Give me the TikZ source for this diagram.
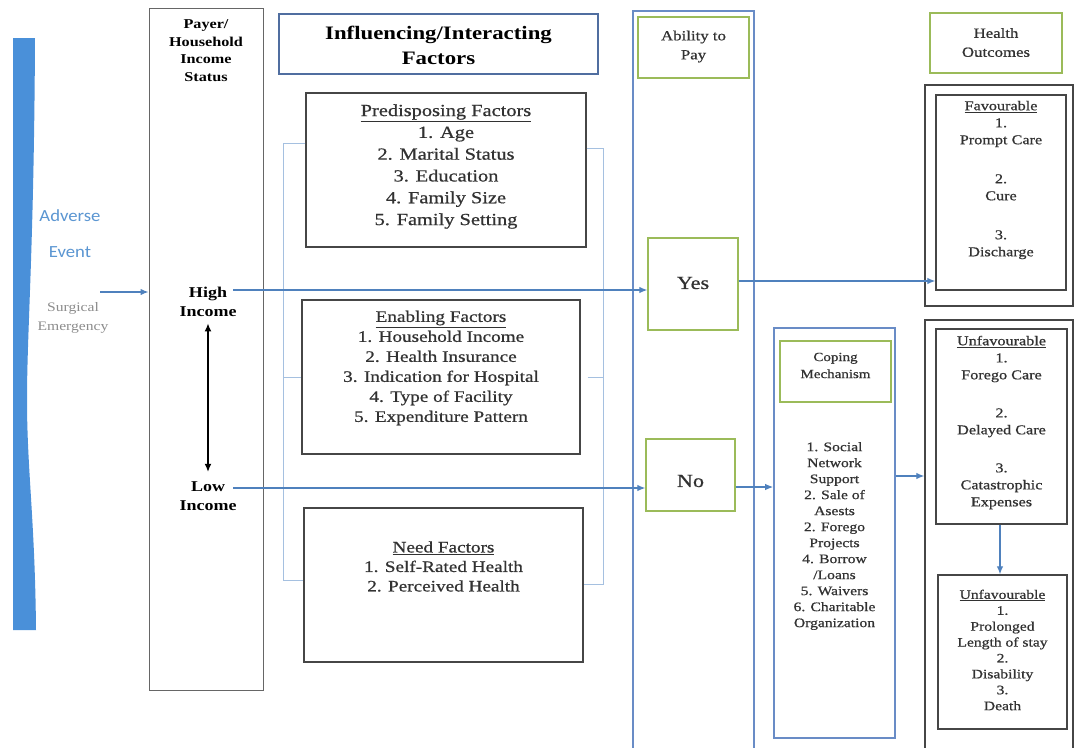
\documentclass[tikz,border=0pt]{standalone}
\usepackage{fontspec}
\setmainfont{Liberation Serif}[FakeStretch=1.2]
\newfontfamily\bxf{Liberation Serif}[FakeStretch=1.2, FakeBold=0.7]
\newfontfamily\calib{Carlito}[FakeStretch=1.1]
\usetikzlibrary{arrows.meta}
\definecolor{barblue}{RGB}{74,144,217}
\definecolor{lnblue}{RGB}{79,129,189}
\definecolor{bxblue}{RGB}{105,140,198}
\definecolor{ttlblue}{RGB}{80,110,160}
\definecolor{grn}{RGB}{155,187,89}
\definecolor{brk}{RGB}{165,192,224}
\definecolor{txt}{RGB}{50,50,50}
\definecolor{advb}{RGB}{91,150,210}
\definecolor{dgray}{RGB}{70,70,70}
\tikzset{
  gbox/.style={draw=dgray, line width=1.4pt, inner sep=0pt},
  pbox/.style={draw=black!60, line width=1pt, inner sep=0pt},
  grbox/.style={draw=grn, line width=1.3pt, inner sep=0pt},
  blbox/.style={draw=bxblue, line width=1.7pt, inner sep=0pt},
  conn/.style={draw=lnblue, line width=1.2pt, -{Latex[length=8pt,width=6.5pt]}},
  brkline/.style={draw=brk, line width=0.9pt},
  txtn/.style={align=center, text=txt, inner sep=0pt},
  btxt/.style={align=center, text=black, inner sep=0pt},
}
\begin{document}
\begin{tikzpicture}[x=1pt,y=-1pt]
\useasboundingbox (0,0) rectangle (1075,747);
\fill[white] (0,0) rectangle (1075,747);
% left bar
\fill[barblue] (13,38) -- (35,38) .. controls (34,250) and (27,330) .. (27,400)
  .. controls (27,470) and (35,520) .. (36,630) -- (13,630) -- cycle;
\node[txtn, text=advb, font=\calib\fontsize{17}{36}\selectfont] (adv) at (70,234) {Adverse\\Event};
\node[txtn, text=black!45, font=\fontsize{13}{19}\selectfont] (surg) at (73,318) {Surgical\\Emergency};
\coordinate (advS) at (100,292);

% payer column
\node[pbox, minimum width=114pt, minimum height=682pt] (payer) at (206,349) {};
\node[btxt, font=\bfseries\fontsize{13.5}{17.7}\selectfont] (payt) at (206,50.5) {Payer/\\Household\\Income\\Status};
\node[btxt, font=\bfseries\fontsize{15}{19}\selectfont] (hi) at (208,301.5) {High\\Income};
\node[btxt, font=\bfseries\fontsize{15}{19}\selectfont] (lo) at (208,496.5) {Low\\Income};
\draw[black, line width=1.3pt, {Latex[length=8pt,width=7pt]}-{Latex[length=8pt,width=7pt]}] ([yshift=-7pt]hi.south) -- ([yshift=10pt]lo.north);
\coordinate (hiS) at (233,290);
\coordinate (loS) at (233,488);

% influencing
\node[draw=ttlblue, line width=1.6pt, minimum width=319pt, minimum height=60pt, inner sep=0pt] (infl) at (438.5,44) {};
\node[btxt, font=\bfseries\fontsize{19}{25}\selectfont] (inflt) at (438.5,45.5) {Influencing/Interacting\\Factors};

% factor boxes
\node[gbox, minimum width=280pt, minimum height=154pt] (pre) at (446,170) {};
\node[txtn, font=\bxf\fontsize{17}{21.8}\selectfont] (pret) at (446,166.5) {\underline{Predisposing Factors}\\1. Age\\2. Marital Status\\3. Education\\4. Family Size\\5. Family Setting};
\node[gbox, minimum width=278pt, minimum height=154pt] (ena) at (441,377) {};
\node[txtn, font=\bxf\fontsize{16}{20}\selectfont] (enat) at (441,368) {\underline{Enabling Factors}\\1. Household Income\\2. Health Insurance\\3. Indication for Hospital\\4. Type of Facility\\5. Expenditure Pattern};
\node[gbox, minimum width=279pt, minimum height=154pt] (need) at (443.5,585) {};
\node[txtn, font=\bxf\fontsize{16}{19.5}\selectfont] (needt) at (443.5,566.5) {\underline{Need Factors}\\1. Self-Rated Health\\2. Perceived Health};

% brackets
\coordinate (bl1) at (283,143);
\coordinate (bl2) at (283,377);
\coordinate (bl3) at (283,580);
\coordinate (br1) at (603,148);
\coordinate (br2) at (603,377);
\coordinate (br3) at (603,584);
\draw[brkline] (pre.west |- bl1) -- (bl1) -- (bl3) -- (need.west |- bl3);
\draw[brkline] (bl2) -- (ena.west |- bl2);
\draw[brkline] (pre.east |- br1) -- (br1) -- (br3) -- (need.east |- br3);
\draw[brkline] ([xshift=7pt]ena.east |- br2) -- (br2);

% ability to pay
\node[blbox, minimum width=121pt, minimum height=749pt] (abil) at (693.5,385.5) {};
\node[grbox, minimum width=111pt, minimum height=61pt] (abilh) at (693.5,47.5) {};
\node[txtn, font=\bxf\fontsize{14}{19}\selectfont] (abilt) at (693.5,46.5) {Ability to\\Pay};
\node[grbox, minimum width=90pt, minimum height=92pt] (yes) at (693,284) {};
\node[txtn, font=\bxf\fontsize{18.5}{20}\selectfont] (yest) at (693,283) {Yes};
\node[grbox, minimum width=89pt, minimum height=72pt] (no) at (690.5,475) {};
\node[txtn, font=\bxf\fontsize{18.5}{20}\selectfont] (not) at (690.5,481) {No};

% coping
\node[blbox, minimum width=121pt, minimum height=410pt] (cop) at (834.5,533) {};
\node[grbox, minimum width=111pt, minimum height=61pt] (coph) at (835.5,371.5) {};
\node[txtn, font=\bxf\fontsize{12.5}{17}\selectfont] (copht) at (835.5,365.5) {Coping\\Mechanism};
\node[txtn, font=\bxf\fontsize{13}{16}\selectfont] (copt) at (834.5,536) {1. Social\\Network\\Support\\2. Sale of\\Asests\\2. Forego\\Projects\\4. Borrow\\/Loans\\5. Waivers\\6. Charitable\\Organization};

% health outcomes
\node[grbox, minimum width=132pt, minimum height=60pt] (ho) at (996,43) {};
\node[txtn, font=\bxf\fontsize{14}{19}\selectfont] (hot) at (996,42.5) {Health\\Outcomes};
\node[gbox, minimum width=148pt, minimum height=221pt] (favo) at (999,195.5) {};
\node[gbox, minimum width=130pt, minimum height=195pt] (favi) at (1001,192.5) {};
\node[txtn, font=\bxf\fontsize{13.5}{17}\selectfont] (favt) at (1001,180) {\underline{Favourable}\\1.\\Prompt Care\\[22pt]2.\\Cure\\[22pt]3.\\Discharge};
\node[gbox, minimum width=148pt, minimum height=440pt] (unfo) at (999,540) {};
\node[gbox, minimum width=131pt, minimum height=195pt] (unf1) at (1001.5,426.5) {};
\node[txtn, font=\bxf\fontsize{13.5}{17}\selectfont] (unf1t) at (1001.5,422.5) {\underline{Unfavourable}\\1.\\Forego Care\\[21pt]2.\\Delayed Care\\[21pt]3.\\Catastrophic\\Expenses};
\node[gbox, minimum width=129pt, minimum height=154pt] (unf2) at (1002.5,652) {};
\node[txtn, font=\bxf\fontsize{13}{15.9}\selectfont] (unf2t) at (1002.5,650) {\underline{Unfavourable}\\1.\\Prolonged\\Length of stay\\2.\\Disability\\3.\\Death};

% connectors
\draw[conn] (advS) -- (payer.west |- advS);
\draw[conn] (hiS) -- (yes.west |- hiS);
\draw[conn] (loS) -- (no.west |- loS);
\coordinate (yesS) at (738,281);
\draw[conn] (yes.east |- yesS) -- (favi.west |- yesS);
\coordinate (noS) at (735,487);
\draw[conn] (no.east |- noS) -- (cop.west |- noS);
\coordinate (copS) at (895,476);
\draw[conn] (cop.east |- copS) -- (unfo.west |- copS);
\draw[conn] (unf1.south -| 1000,0) -- (unf2.north -| 1000,0);
\end{tikzpicture}
\end{document}
